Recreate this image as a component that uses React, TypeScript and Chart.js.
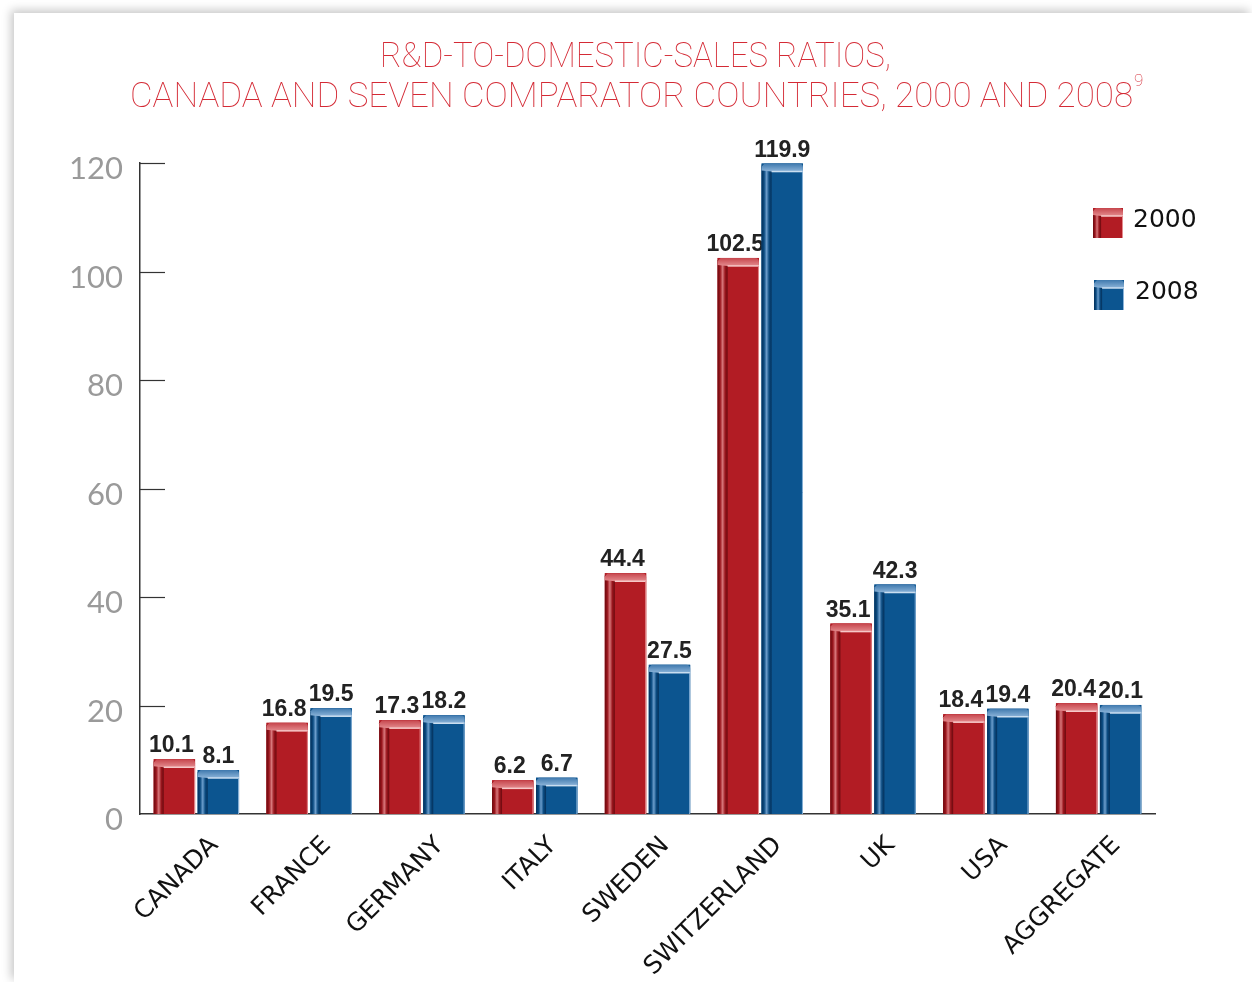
import { useEffect, useRef } from "react";
import { Chart, registerables } from "chart.js";
Chart.register(...registerables);

const categories = ["CANADA", "FRANCE", "GERMANY", "ITALY", "SWEDEN", "SWITZERLAND", "UK", "USA", "AGGREGATE"];
const values2000 = [10.1, 16.8, 17.3, 6.2, 44.4, 102.5, 35.1, 18.4, 20.4];
const values2008 = [8.1, 19.5, 18.2, 6.7, 27.5, 119.9, 42.3, 19.4, 20.1];
const seriesLabels = ["2000", "2008"];
const yTicks = [0, 20, 40, 60, 80, 100, 120];
const titleLines = ["R&D-TO-DOMESTIC-SALES RATIOS,", "CANADA AND SEVEN COMPARATOR COUNTRIES, 2000 AND 2008"];
const titleNote = "9";

type Pal = { front: string; dark: string; mid: string; light: string; cap1: string; cap2: string; hl: string };
const RED: Pal = { front: "#b21c24", dark: "#6a0a0f", mid: "#9a151c", light: "#d8777b", cap1: "#c6454c", cap2: "#e48b8e", hl: "#f6c8c8" };
const BLUE: Pal = { front: "#0c5590", dark: "#04305a", mid: "#0a4a80", light: "#6b9dcc", cap1: "#3f79ae", cap2: "#8cb4d9", hl: "#cadef0" };
const PALS = [RED, BLUE];

function draw3D(ctx: CanvasRenderingContext2D, left: number, top: number, right: number, bottom: number, p: Pal) {
  const w = right - left;
  const side = Math.min(10, w * 0.27);
  const cap = 8;
  ctx.save();
  ctx.fillStyle = p.front;
  ctx.fillRect(left, top, w, bottom - top);
  const g = ctx.createLinearGradient(left, 0, left + side, 0);
  g.addColorStop(0, p.dark);
  g.addColorStop(0.25, p.mid);
  g.addColorStop(0.5, p.light);
  g.addColorStop(0.75, p.mid);
  g.addColorStop(1, p.dark);
  ctx.fillStyle = g;
  ctx.fillRect(left, top + 2, side, bottom - top - 2);
  const cg = ctx.createLinearGradient(0, top, 0, top + cap);
  cg.addColorStop(0, p.cap1);
  cg.addColorStop(1, p.cap2);
  ctx.fillStyle = cg;
  ctx.beginPath();
  ctx.moveTo(left, top + 3);
  ctx.lineTo(left + 3, top);
  ctx.lineTo(right - 4, top);
  ctx.quadraticCurveTo(right, top, right, top + 4);
  ctx.lineTo(right, top + cap);
  ctx.lineTo(left + side, top + cap);
  ctx.lineTo(left, top + cap - 1);
  ctx.closePath();
  ctx.fill();
  ctx.strokeStyle = p.hl;
  ctx.lineWidth = 1.5;
  ctx.beginPath();
  ctx.moveTo(left + side, top + cap);
  ctx.lineTo(right, top + cap);
  ctx.stroke();
  ctx.strokeStyle = p.cap2;
  ctx.lineWidth = 1;
  ctx.beginPath();
  ctx.moveTo(right - 0.5, top + cap);
  ctx.lineTo(right - 0.5, bottom);
  ctx.stroke();
  ctx.restore();
}

function drawFit(ctx: CanvasRenderingContext2D, text: string, cx: number, cy: number, targetW: number, font: string) {
  ctx.save();
  ctx.font = font;
  const w = ctx.measureText(text).width;
  const s = targetW / w;
  ctx.translate(cx, cy);
  ctx.scale(s, 1);
  ctx.textAlign = "center";
  ctx.textBaseline = "middle";
  ctx.fillText(text, 0, 0);
  ctx.restore();
}

const decorPlugin = {
  id: "decor",
  afterDatasetsDraw(chart: any) {
    const ctx: CanvasRenderingContext2D = chart.ctx;
    const area = chart.chartArea;
    const yScale = chart.scales.y;
    chart.data.datasets.forEach((ds: any, di: number) => {
      const meta = chart.getDatasetMeta(di);
      meta.data.forEach((el: any, i: number) => {
        const { x, y, base, width } = el.getProps(["x", "y", "base", "width"], true);
        draw3D(ctx, x - width / 2, y, x + width / 2, base, PALS[di]);
        ctx.save();
        ctx.font = "bold 23px 'Liberation Sans', Arial, sans-serif";
        ctx.fillStyle = "#222";
        ctx.textAlign = "center";
        ctx.textBaseline = "alphabetic";
        ctx.fillText(Number(ds.data[i]).toFixed(1), x + (di === 0 ? -3 : 0), y - 7);
        ctx.restore();
      });
    });
    ctx.save();
    ctx.strokeStyle = "#333";
    ctx.lineWidth = 1.2;
    yTicks.forEach((v) => {
      if (v === 0) return;
      const py = Math.round(yScale.getPixelForValue(v)) + 0.5;
      ctx.beginPath();
      ctx.moveTo(area.left, py);
      ctx.lineTo(area.left + 25, py);
      ctx.stroke();
    });
    ctx.restore();
  },
  afterDraw(chart: any) {
    const ctx: CanvasRenderingContext2D = chart.ctx;
    ctx.save();
    ctx.fillStyle = "#d42a35";
    drawFit(ctx, titleLines[0], 621.5, 45, 511, "100 35px Roboto");
    drawFit(ctx, titleLines[1], 617.5, 85, 1003, "100 35px Roboto");
    ctx.font = "100 17px Roboto";
    ctx.textAlign = "left";
    ctx.textBaseline = "middle";
    ctx.fillText(titleNote, 1120, 69);
    ctx.restore();
    const items = [
      { bx: 1079, by: 195, tx: 1119, ty: 207 },
      { bx: 1080, by: 267, tx: 1121, ty: 279 },
    ];
    chart.data.datasets.forEach((ds: any, di: number) => {
      const it = items[di];
      draw3D(ctx, it.bx, it.by, it.bx + 30, it.by + 30, PALS[di]);
      ctx.save();
      ctx.font = "25px 'DejaVu Sans', sans-serif";
      ctx.fillStyle = "#111";
      ctx.textAlign = "left";
      ctx.textBaseline = "middle";
      ctx.fillText(ds.label, it.tx, it.ty);
      ctx.restore();
    });
  },
};

export default function App() {
  const ref = useRef<HTMLCanvasElement>(null);
  useEffect(() => {
    const canvas = ref.current!;
    const chart = new Chart(canvas, {
      type: "bar",
      data: {
        labels: categories,
        datasets: [
          { label: seriesLabels[0], data: values2000, backgroundColor: RED.front, categoryPercentage: 0.78, barPercentage: 0.94 },
          { label: seriesLabels[1], data: values2008, backgroundColor: BLUE.front, categoryPercentage: 0.78, barPercentage: 0.94 },
        ],
      },
      options: {
        animation: false,
        responsive: false,
        devicePixelRatio: 1,
        layout: { padding: { top: 150, right: 97, bottom: 0, left: 0 } },
        plugins: { legend: { display: false }, title: { display: false }, tooltip: { enabled: false } },
        scales: {
          x: {
            grid: { display: false, drawTicks: false },
            border: { display: true, color: "#333", width: 1.5 },
            ticks: {
              autoSkip: false,
              maxRotation: 45,
              minRotation: 45,
              padding: 17,
              labelOffset: 18,
              color: "#111",
              font: { family: "'DejaVu Sans', sans-serif", size: 25 },
            },
            afterFit: (s: any) => { s.height = 168; },
          },
          y: {
            min: 0,
            max: 120,
            grid: { display: false, drawTicks: false },
            border: { display: true, color: "#333", width: 1.5 },
            ticks: {
              stepSize: 20,
              padding: 17,
              labelOffset: 6,
              color: "#9a9a9a",
              font: { family: "Lato, sans-serif", size: 31 },
              callback: (v: any) => (yTicks.includes(Number(v)) ? String(v) : ""),
            },
            afterFit: (s: any) => { s.width = 126; },
          },
        },
      },
      plugins: [decorPlugin],
    });
    return () => chart.destroy();
  }, []);
  return (
    <div
      style={{
        position: "absolute",
        left: 14,
        top: 13,
        width: 1238,
        height: 969,
        background: "#fff",
        boxShadow: "-3px -3px 9px rgba(0,0,0,0.22)",
      }}
    >
      <canvas ref={ref} width={1238} height={969} style={{ display: "block", width: 1238, height: 969 }} />
    </div>
  );
}
